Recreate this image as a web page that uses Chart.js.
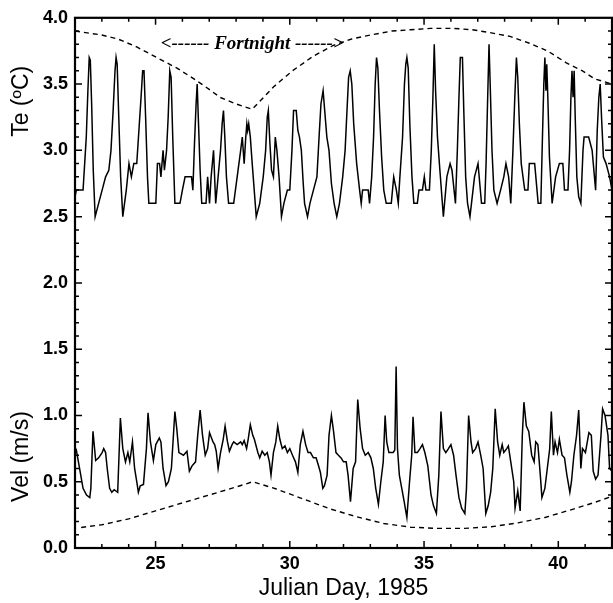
<!DOCTYPE html>
<html>
<head>
  <title>Te and Vel</title>
  <script src="https://cdn.jsdelivr.net/npm/chart.js"></script>
  <style>
    body { margin: 0; background: #fff; }
  </style>
</head>
<body>
  <canvas id="chart" width="613" height="603"></canvas>

  <script>
    // temperature trace (Julian day, deg C) - one line per tidal cycle
    var tempDays = [
      22.00,22.05,22.30,22.36,22.42,22.48,22.53,22.57,22.62,22.68,22.75,
      22.88,23.01,23.14,23.26,23.34,23.42,23.49,23.53,23.57,23.63,23.70,23.78,
      23.91,24.01,24.10,24.19,24.30,24.38,24.46,24.52,24.57,24.63,24.70,24.75,
      25.01,25.07,25.15,25.20,25.28,25.33,25.41,25.47,25.53,25.58,25.64,25.72,
      25.91,26.00,26.10,26.34,26.39,26.45,26.51,26.55,26.60,26.66,26.72,
      26.88,26.94,27.01,27.07,27.16,27.24,27.33,27.42,27.48,27.53,27.58,27.64,27.72,
      27.91,28.04,28.17,28.23,28.30,28.36,28.40,28.43,28.47,28.53,28.60,28.75,
      28.88,29.01,29.10,29.16,29.20,29.26,29.32,29.39,29.46,29.52,29.60,29.69,
      29.78,29.91,30.00,30.08,30.14,30.24,30.30,30.36,30.43,30.50,30.55,30.66,
      30.75,30.88,31.01,31.09,31.16,31.24,31.30,31.38,31.46,31.55,31.65,31.75,
      31.85,31.97,32.06,32.13,32.19,32.25,32.31,32.38,32.49,32.60,32.66,32.71,
      32.92,32.97,33.05,33.12,33.18,33.23,33.28,33.34,33.42,33.50,33.59,
      33.78,33.87,33.97,34.04,34.10,34.20,34.27,34.32,34.36,34.41,34.47,34.55,34.62,
      34.75,34.81,34.94,35.01,35.07,35.20,35.27,35.33,35.38,35.43,35.50,35.59,35.72,
      35.85,35.97,36.04,36.17,36.24,36.30,36.35,36.43,36.48,36.55,36.62,36.71,
      36.88,37.01,37.14,37.26,37.31,37.37,37.42,37.47,37.53,37.60,37.72,
      37.85,37.97,38.05,38.15,38.23,38.31,38.38,38.44,38.49,38.55,38.62,38.75,
      38.87,38.92,39.12,39.25,39.35,39.41,39.46,39.50,39.54,39.57,39.61,39.67,39.77,
      39.90,40.04,40.17,40.23,40.36,40.42,40.47,40.51,40.55,40.59,40.63,40.69,40.76,40.84,
      40.92,40.96,41.13,41.26,41.39,41.45,41.51,41.56,41.61,41.68,41.78,41.91,42.00];
    var tempVals = [
      2.65,2.70,2.70,2.90,3.10,3.45,3.70,3.68,3.35,2.85,2.50,
      2.60,2.70,2.80,2.85,3.00,3.30,3.60,3.70,3.65,3.25,2.80,2.50,
      2.70,2.90,2.80,2.90,2.90,3.15,3.40,3.60,3.60,3.25,2.80,2.60,
      2.60,2.90,2.90,2.80,3.00,2.85,3.00,3.25,3.60,3.55,3.10,2.60,
      2.60,2.70,2.80,2.80,2.70,3.05,3.35,3.50,3.20,2.85,2.60,
      2.60,2.80,2.60,2.80,3.00,2.60,2.80,3.00,3.20,3.30,3.10,2.80,2.60,
      2.60,2.80,3.00,3.10,2.90,3.10,3.20,3.15,3.20,3.10,2.90,2.50,
      2.60,2.80,3.00,3.25,3.30,3.05,2.85,2.80,3.10,3.00,2.80,2.50,
      2.60,2.70,2.70,3.00,3.30,3.30,3.15,3.10,3.00,2.75,2.60,2.50,
      2.60,2.70,2.80,3.10,3.35,3.45,3.30,3.10,3.00,2.75,2.60,2.50,
      2.60,2.80,3.00,3.30,3.55,3.60,3.50,3.20,2.90,2.70,2.60,2.70,
      2.70,2.60,2.80,3.10,3.50,3.70,3.62,3.30,2.95,2.70,2.60,
      2.60,2.80,2.70,2.60,2.80,3.10,3.50,3.65,3.70,3.62,3.20,2.80,2.60,
      2.60,2.70,2.70,2.80,2.70,2.70,3.00,3.40,3.80,3.45,3.10,2.85,2.50,
      2.80,2.90,2.85,2.60,3.00,3.40,3.70,3.70,3.30,2.80,2.60,2.50,
      2.80,2.90,2.60,2.60,2.90,3.40,3.80,3.45,3.00,2.70,2.60,
      2.70,2.80,2.90,2.80,2.60,3.00,3.40,3.70,3.55,3.20,2.90,2.70,
      2.70,2.90,2.90,2.60,2.60,3.10,3.50,3.70,3.45,3.65,3.40,2.95,2.60,
      2.80,2.90,2.90,2.70,2.70,3.00,3.40,3.60,3.40,3.60,3.25,2.80,2.65,2.60,
      3.00,3.10,3.10,3.00,2.70,3.15,3.40,3.50,3.25,2.95,2.90,2.80,2.70];

    // velocity trace (Julian day, m/s)
    var velDays = [22.04,22.17,22.30,22.43,22.55,22.59,22.67,22.77,22.88,23.01,23.07,23.14,23.20,23.29,23.37,23.46,23.59,23.69,23.78,23.88,
      23.97,24.04,24.14,24.22,24.30,24.36,24.43,24.55,24.66,24.72,24.81,24.92,25.01,25.14,25.20,25.28,25.39,25.48,25.59,25.72,
      25.79,25.87,26.04,26.17,26.26,26.36,26.49,26.57,26.66,26.75,26.85,26.94,27.01,27.14,27.20,27.26,27.33,27.42,27.52,27.59,
      27.68,27.75,27.85,27.91,28.04,28.17,28.23,28.30,28.39,28.45,28.53,28.62,28.68,28.81,28.88,28.97,29.07,29.16,29.24,29.30,
      29.39,29.48,29.55,29.63,29.72,29.82,29.91,30.00,30.10,30.21,30.30,30.39,30.49,30.59,30.68,30.77,30.88,30.98,31.07,31.14,
      31.23,31.29,31.39,31.46,31.55,31.63,31.72,31.81,31.91,32.00,32.10,32.17,32.26,32.36,32.45,32.53,32.62,32.71,32.81,32.92,
      33.02,33.11,33.20,33.30,33.39,33.48,33.55,33.61,33.69,33.85,33.91,33.96,34.01,34.08,34.17,34.26,34.36,34.46,34.54,34.59,
      34.66,34.75,34.85,34.94,35.03,35.14,35.26,35.35,35.46,35.55,35.63,35.72,35.81,35.91,36.00,36.10,36.19,36.30,36.40,36.52,
      36.58,36.66,36.75,36.81,36.92,37.01,37.11,37.20,37.30,37.39,37.48,37.56,37.65,37.74,37.82,37.91,37.97,38.08,38.14,38.23,
      38.34,38.39,38.49,38.58,38.66,38.72,38.81,38.90,39.01,39.10,39.16,39.24,39.33,39.39,39.50,39.59,39.68,39.74,39.82,39.88,
      39.97,40.04,40.14,40.23,40.32,40.43,40.49,40.58,40.68,40.76,40.84,40.90,41.01,41.14,41.23,41.30,41.39,41.48,41.59,41.65,
      41.74,41.85,41.91,42.00];
    var velVals = [0.75,0.60,0.45,0.40,0.38,0.45,0.88,0.66,0.68,0.72,0.75,0.72,0.60,0.45,0.42,0.44,0.42,0.98,0.75,0.65,
      0.72,0.65,0.80,0.60,0.50,0.42,0.47,0.48,0.75,1.02,0.80,0.66,0.78,0.83,0.80,0.60,0.47,0.50,0.60,1.03,
      0.90,0.72,0.70,0.73,0.58,0.62,0.65,0.85,1.04,0.85,0.70,0.75,0.87,0.80,0.78,0.73,0.60,0.72,0.82,0.92,
      0.80,0.73,0.78,0.80,0.78,0.80,0.78,0.81,0.75,0.82,0.93,0.85,0.82,0.72,0.68,0.73,0.70,0.72,0.65,0.55,
      0.72,0.80,0.92,0.82,0.75,0.77,0.72,0.75,0.70,0.65,0.57,0.78,0.88,0.78,0.72,0.72,0.68,0.68,0.62,0.57,
      0.45,0.47,0.55,0.85,1.00,0.88,0.72,0.70,0.68,0.65,0.65,0.55,0.35,0.60,0.65,1.12,0.90,0.75,0.70,0.72,
      0.68,0.60,0.45,0.33,0.50,0.65,1.00,0.80,0.72,0.72,0.74,1.37,0.75,0.55,0.45,0.35,0.23,0.50,0.70,0.99,
      0.72,0.72,0.75,0.78,0.72,0.62,0.40,0.32,0.26,0.55,1.03,0.75,0.72,0.75,0.78,0.70,0.55,0.38,0.30,0.26,
      0.45,1.00,0.80,0.72,0.75,0.80,0.70,0.60,0.26,0.32,0.42,0.60,1.05,0.80,0.70,0.78,0.72,0.75,0.77,0.65,
      0.50,0.30,0.43,0.28,0.85,1.10,0.92,0.88,0.70,0.65,0.80,0.78,0.55,0.38,0.45,0.60,0.75,1.03,0.70,0.80,
      0.72,0.82,0.70,0.68,0.55,0.42,0.50,0.70,0.85,1.04,0.60,0.75,0.72,0.87,0.85,0.58,0.52,0.55,0.85,1.05,
      1.00,0.85,0.60,0.58];

    // dashed fortnightly envelopes
    var upperDays = [22.0,23.0,23.6,24.3,25.05,25.8,26.5,27.0,27.4,28.0,28.6,29.4,30.1,30.87,31.6,32.3,33.0,33.8,34.5,35.24,36.1,36.8,37.4,38.2,38.9,39.6,40.3,40.9,41.35,42.0];
    var upperVals = [3.90,3.87,3.84,3.78,3.70,3.62,3.53,3.46,3.40,3.35,3.31,3.48,3.60,3.71,3.79,3.84,3.87,3.90,3.91,3.92,3.92,3.91,3.89,3.86,3.81,3.75,3.66,3.60,3.54,3.50];
    var lowerDays = [22.23,23.0,24.0,25.0,26.0,27.0,28.0,28.62,29.5,30.5,31.5,32.5,33.5,34.5,35.5,36.5,37.5,38.5,39.5,40.5,41.3,42.0];
    var lowerVals = [0.155,0.175,0.22,0.28,0.34,0.40,0.46,0.50,0.445,0.37,0.295,0.235,0.185,0.157,0.148,0.148,0.16,0.19,0.23,0.29,0.34,0.39];

    var xTicks = [25, 30, 35, 40];

    function pts(xs, ys) {
      return xs.map(function (x, i) { return { x: x, y: ys[i] }; });
    }

    var sans = '"Liberation Sans", Arial, sans-serif';

    // frame, inward ticks and the extra texts
    var decor = {
      id: 'decor',
      afterDraw: function (chart) {
        var c = chart.ctx, a = chart.chartArea;
        var xs = chart.scales.x, ys = chart.scales.y;
        c.save();
        c.strokeStyle = '#000';
        c.lineWidth = 1.5;
        c.beginPath();
        for (var d = 23; d <= 41; d++) {
          var px = xs.getPixelForValue(d);
          var len = d % 5 === 0 ? 7 : 4;
          c.moveTo(px, a.bottom); c.lineTo(px, a.bottom - len);
          c.moveTo(px, a.top); c.lineTo(px, a.top + len);
        }
        for (var k = 1; k < 40; k++) {
          var py = ys.getPixelForValue(k / 10);
          var l2 = k % 5 === 0 ? 7 : 4;
          c.moveTo(a.left, py); c.lineTo(a.left + l2, py);
          c.moveTo(a.right, py); c.lineTo(a.right - l2, py);
        }
        c.stroke();
        c.lineWidth = 2.2;
        c.strokeRect(a.left, a.top, a.right - a.left, a.bottom - a.top);

        c.fillStyle = '#000';
        c.font = 'italic bold 19px "Liberation Serif", "Times New Roman", serif';
        c.textAlign = 'center';
        c.textBaseline = 'middle';
        c.fillText('<------ Fortnight ------>', xs.getPixelForValue(28.6), ys.getPixelForValue(3.8));

        c.font = '23px ' + sans;
        var labels = [['Te (\u00baC)', 3.37], ['Vel (m/s)', 0.69]];
        labels.forEach(function (lb) {
          c.save();
          c.translate(22, ys.getPixelForValue(lb[1]));
          c.rotate(-Math.PI / 2);
          c.fillText(lb[0], 0, 0);
          c.restore();
        });
        c.restore();
      }
    };

    var line = { borderColor: '#000', borderWidth: 1.5, pointRadius: 0, fill: false, tension: 0 };
    var dash = { borderColor: '#000', borderWidth: 1.4, borderDash: [5, 4], pointRadius: 0, fill: false, tension: 0 };

    var ctx = document.getElementById('chart').getContext('2d');
    var chart = new Chart(ctx, {
      type: 'line',
      data: {
        datasets: [
          Object.assign({ label: 'Te', data: pts(tempDays, tempVals) }, line),
          Object.assign({ label: 'Vel', data: pts(velDays, velVals) }, line),
          Object.assign({ label: 'Te envelope', data: pts(upperDays, upperVals) }, dash),
          Object.assign({ label: 'Vel envelope', data: pts(lowerDays, lowerVals) }, dash)
        ]
      },
      options: {
        responsive: false,
        animation: false,
        layout: { padding: { top: 14, right: 1, left: 0, bottom: 1 } },
        plugins: { legend: { display: false }, tooltip: { enabled: false } },
        scales: {
          x: {
            type: 'linear',
            min: 22,
            max: 42,
            afterBuildTicks: function (s) { s.ticks = xTicks.map(function (v) { return { value: v }; }); },
            afterFit: function (s) { s.height = 54; },
            grid: { display: false, drawTicks: false },
            border: { display: false },
            ticks: { color: '#000', padding: 5, maxRotation: 0, font: { family: sans, size: 18, weight: 'bold' } },
            title: { display: true, text: 'Julian Day, 1985', color: '#000', padding: 0, font: { family: sans, size: 23 } }
          },
          y: {
            min: 0,
            max: 4,
            afterFit: function (s) { s.width = 75; },
            grid: { display: false, drawTicks: false },
            border: { display: false },
            ticks: {
              stepSize: 0.5, color: '#000', padding: 7,
              font: { family: sans, size: 18, weight: 'bold' },
              callback: function (v) { return v.toFixed(1); }
            }
          }
        }
      },
      plugins: [decor]
    });
  </script>
</body>
</html>
